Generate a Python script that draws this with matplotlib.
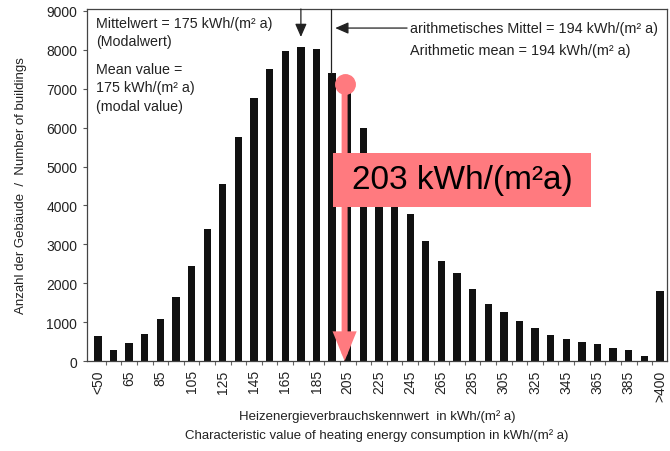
import matplotlib
matplotlib.use("Agg")
import matplotlib.pyplot as plt
from matplotlib.patches import Rectangle

plt.rcParams['font.family'] = ['Liberation Sans', 'DejaVu Sans']

# Heating-energy classes (kWh/(m² a)) and building counts
categories = ["<50"] + [str(v) for v in range(55, 400, 10)] + [">400"]
bin_centers = [45] + list(range(55, 400, 10)) + [405]
counts = [650, 270, 460, 690, 1070, 1640, 2450, 3400, 4550, 5760,
          6760, 7500, 7980, 8070, 8020, 7410, 6910, 5980, 5150, 4450,
          3780, 3080, 2580, 2250, 1850, 1465, 1250, 1020, 850, 670,
          565, 480, 437, 334, 290, 137, 1790]
y_ticks = list(range(0, 9001, 1000))

modal_value = 175
arith_mean = 194
highlight_value = 203
highlight_label = "203 kWh/(m²a)"

ink = "#222222"
pink = "#ff7a7f"

fig = plt.figure(figsize=(6.7, 4.52), dpi=100)
ax = fig.add_axes([87 / 670, 1 - 362 / 452, 580 / 670, 352 / 452])

ax.bar(bin_centers, counts, width=4.7, color="#111111", zorder=2)

ax.set_xlim(38, 409.5)
ax.set_ylim(0, 9050)

ax.set_yticks(y_ticks)
ax.set_yticklabels([str(v) for v in y_ticks], fontsize=10, color=ink)
ax.tick_params(axis="y", length=3, width=0.8, color="#555555", pad=4)

ax.set_xticks(bin_centers[::2])
ax.set_xticklabels(categories[::2], rotation=90, fontsize=10, color=ink)
ax.set_xticks([c + 5 for c in bin_centers[:-1]], minor=True)
ax.tick_params(axis="x", which="major", length=0, pad=6)
ax.tick_params(axis="x", which="minor", length=3, width=0.8, color="#666666")

for s in ax.spines.values():
    s.set_color("#444444")
    s.set_linewidth(0.9)

ax.set_ylabel("Anzahl der Gebäude  /  Number of buildings", fontsize=9.5,
              color=ink, labelpad=14)
ax.set_xlabel("Heizenergieverbrauchskennwert  in kWh/(m² a)\n"
              "Characteristic value of heating energy consumption in kWh/(m² a)",
              fontsize=9.5, color=ink, labelpad=6, linespacing=1.7)

# Modal value marker
ax.annotate("", xy=(modal_value, 8330), xytext=(modal_value, 9050),
            arrowprops=dict(arrowstyle="-|>,head_length=0.8,head_width=0.35",
                            color=ink, lw=0.9, shrinkA=0, shrinkB=0),
            zorder=3)
left_lines = [("Mittelwert = 175 kWh/(m² a)", 0.960), ("(Modalwert)", 0.909),
              ("Mean value =", 0.830), ("175 kWh/(m² a)", 0.778),
              ("(modal value)", 0.724)]
for txt, yy in left_lines:
    ax.text(0.016, yy, txt, transform=ax.transAxes, fontsize=10.3, color=ink,
            va="center", ha="left")

# Arithmetic mean marker
ax.plot([arith_mean, arith_mean], [counts[15], 9050], color=ink, lw=0.9, zorder=3)
ax.annotate("", xy=(arith_mean + 3, 8560), xytext=(arith_mean + 49, 8560),
            arrowprops=dict(arrowstyle="-|>,head_length=0.8,head_width=0.35",
                            color=ink, lw=0.9, shrinkA=0, shrinkB=0),
            zorder=3)
ax.text(0.557, 0.946, "arithmetisches Mittel = 194 kWh/(m² a)",
        transform=ax.transAxes, fontsize=10.4, color=ink, va="center")
ax.text(0.557, 0.884, "Arithmetic mean = 194 kWh/(m² a)",
        transform=ax.transAxes, fontsize=10.4, color=ink, va="center")

# Highlighted value
ax.annotate("", xy=(highlight_value, 0), xytext=(highlight_value, 7120),
            arrowprops=dict(arrowstyle="-|>,head_length=1.35,head_width=0.55",
                            color=pink, lw=4.3, shrinkA=0, shrinkB=0,
                            joinstyle="miter"),
            zorder=5)
ax.plot([highlight_value], [7120], "o", color=pink, markersize=14, zorder=6)
ax.add_patch(Rectangle((0.424, 0.4375), 0.445, 0.154, transform=ax.transAxes,
                       facecolor=pink, edgecolor="none", zorder=7))
ax.text(0.6465, 0.5145, highlight_label, transform=ax.transAxes, fontsize=24,
        color="black", ha="center", va="center", zorder=8)

fig.savefig("out.png", dpi=100)
